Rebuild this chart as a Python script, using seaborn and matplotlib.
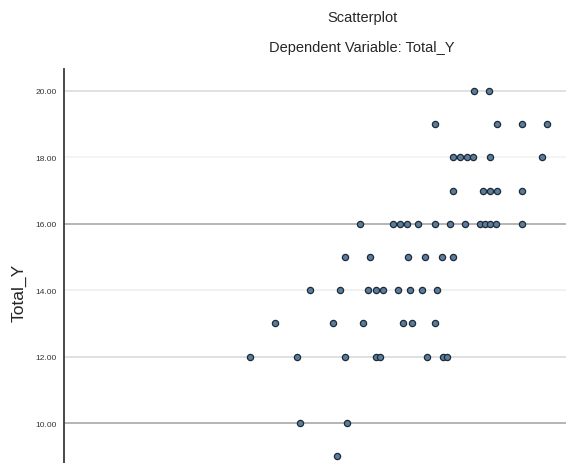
import numpy as np
import pandas as pd
import matplotlib
matplotlib.use('Agg')
import matplotlib.pyplot as plt
import seaborn as sns

# predicted value (x axis is cropped in the reference, estimated scale) and Total_Y
pred = [81.7, 84.7,
        73.9, 86.3, 91.2, 96.2,
        77.5, 78.9, 80.3, 81.5, 84.9, 95.2,
        77.5, 83.5, 84.9, 86.3, 91.2,
        59.0, 65.5, 66.9, 68.3, 70.5, 73.9, 76.9, 79.9, 82.9, 83.9, 84.9, 86.1, 91.2,
        56.0, 61.0, 68.5, 71.9, 75.3, 77.5,
        49.0, 55.0, 60.6, 62.2, 63.5, 66.5, 68.9, 71.3, 74.3,
        42.0, 53.6, 59.6, 67.5, 69.3, 73.9,
        37.1, 46.4, 56.0, 62.2, 62.9, 72.3, 75.5, 76.3,
        47.0, 56.4,
        54.4]
total_y = [20] * 2 + [19] * 4 + [18] * 6 + [17] * 5 + [16] * 13 + [15] * 6 \
    + [14] * 9 + [13] * 6 + [12] * 8 + [10] * 2 + [9] * 1
y_ticks = [10, 12, 14, 16, 18, 20]
grid_colors = ["#a8a8a8", "#dadada", "#efefef", "#a8a8a8", "#f2f2f2", "#dcdcdc"]

df = pd.DataFrame({"Predicted": pred, "Total_Y": total_y})

sns.set_style("white")
plt.rcParams['font.family'] = ['Liberation Sans', 'DejaVu Sans']

fig = plt.figure(figsize=(5.66, 4.64), dpi=100)
ax = fig.add_axes([64 / 566, 0.0, 1 - 64 / 566, 1 - 70 / 464])

for t, c in zip(y_ticks, grid_colors):
    ax.axhline(t, color=c, linewidth=1.2, zorder=0)

sns.scatterplot(data=df, x="Predicted", y="Total_Y", ax=ax, s=20,
                color="#5a7d9e", edgecolor="#1e2a36", linewidth=0.9, zorder=3)

ax.set_xlim(0, 100)
ax.set_ylim(8.80, 20.66)
ax.set_yticks(y_ticks)
ax.set_yticklabels([f"{t:.2f}" for t in y_ticks], fontsize=6, color="#333333")
ax.tick_params(axis="y", length=0, pad=5)
ax.set_xticks([])
ax.set_xlabel("")
ax.set_ylabel("")
for side in ["top", "right", "bottom"]:
    ax.spines[side].set_visible(False)
ax.spines["left"].set_color("#3a3a3a")
ax.spines["left"].set_linewidth(1.3)

fig.text(19 / 566, 1 - 293 / 464, "Total_Y", rotation=90, ha="center", va="center",
         fontsize=12.5)
fig.text(362 / 566, 1 - 18 / 464, "Scatterplot", ha="center", va="center", fontsize=10.5)
fig.text(362 / 566, 1 - 48 / 464, "Dependent Variable: Total_Y", ha="center", va="center",
         fontsize=10.5)

fig.savefig("out.png", dpi=100)
